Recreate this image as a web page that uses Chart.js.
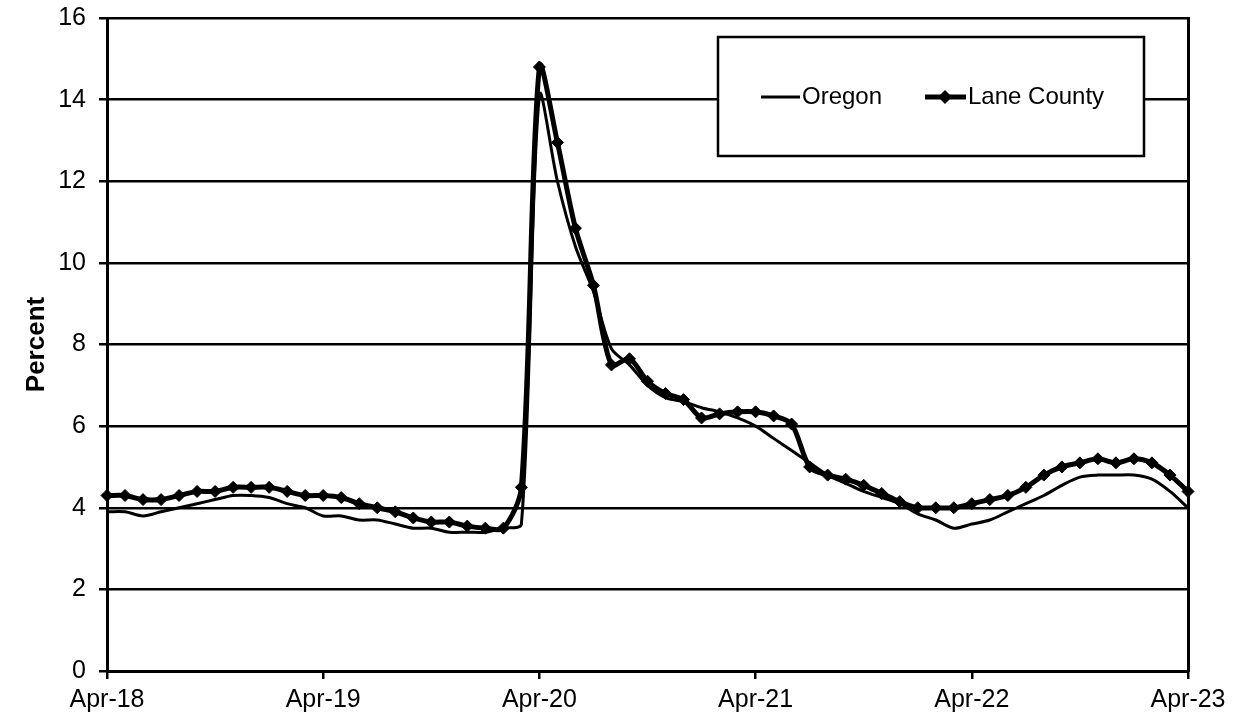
<!DOCTYPE html>
<html>
<head>
<meta charset="utf-8">
<script src="https://cdn.jsdelivr.net/npm/chart.js@4.4.1/dist/chart.umd.min.js"></script>
<style>
  html, body { margin: 0; padding: 0; background: #ffffff; }
  #wrap { width: 1238px; height: 721px; position: relative; }
</style>
</head>
<body>
<div id="wrap"><canvas id="unempChart" width="1238" height="721"></canvas></div>
<script>
  // monthly, Apr-18 .. Apr-23
  const monthNames = ["Jan", "Feb", "Mar", "Apr", "May", "Jun", "Jul", "Aug", "Sep", "Oct", "Nov", "Dec"];
  const months = [];
  for (let i = 0; i <= 60; i++) {
    const m = (3 + i) % 12;
    const y = 18 + Math.floor((3 + i) / 12);
    months.push(monthNames[m] + "-" + y);
  }

  const oregon = [
    3.9, 3.9, 3.8, 3.9, 4.0, 4.1, 4.2, 4.3, 4.3, 4.25, 4.1, 4.0,
    3.8, 3.8, 3.7, 3.7, 3.6, 3.5, 3.5, 3.4, 3.4, 3.4, 3.5, 3.6,
    14.1, 12.0, 10.4, 9.3, 7.9, 7.5, 7.0, 6.7, 6.6, 6.45, 6.35, 6.2,
    6.0, 5.7, 5.4, 5.1, 4.8, 4.6, 4.4, 4.25, 4.1, 3.85, 3.7, 3.5,
    3.6, 3.7, 3.9, 4.1, 4.3, 4.55, 4.75, 4.8, 4.8, 4.8, 4.7, 4.4,
    4.0
  ];

  const laneCounty = [
    4.3, 4.3, 4.2, 4.2, 4.3, 4.4, 4.4, 4.5, 4.5, 4.5, 4.4, 4.3,
    4.3, 4.25, 4.1, 4.0, 3.9, 3.75, 3.65, 3.65, 3.55, 3.5, 3.5, 4.5,
    14.8, 12.95, 10.85, 9.45, 7.5, 7.65, 7.1, 6.8, 6.65, 6.2, 6.3, 6.35,
    6.35, 6.25, 6.05, 5.0, 4.8, 4.7, 4.55, 4.35, 4.15, 4.0, 4.0, 4.0,
    4.1, 4.2, 4.3, 4.5, 4.8, 5.0, 5.1, 5.2, 5.1, 5.2, 5.1, 4.8,
    4.4
  ];

  const yTicks = [0, 2, 4, 6, 8, 10, 12, 14, 16];

  const FONT = "'Liberation Sans', Arial, sans-serif";

  // keep the plot box where the original has it
  function noPad(scale) {
    scale.paddingTop = 0;
    scale.paddingBottom = 0;
    scale.paddingLeft = 0;
    scale.paddingRight = 0;
  }

  // boxed legend drawn over the grid, like the original
  const boxLegend = {
    id: "boxLegend",
    afterDraw(chart) {
      const c = chart.ctx;
      c.save();
      c.fillStyle = "#ffffff";
      c.fillRect(718, 37, 426, 119);
      c.strokeStyle = "#000000";
      c.lineWidth = 2.5;
      c.strokeRect(718, 37, 426, 119);

      const ly = 97;
      c.lineCap = "butt";
      c.beginPath();
      c.lineWidth = 3;
      c.moveTo(761, ly);
      c.lineTo(800, ly);
      c.stroke();

      c.beginPath();
      c.lineWidth = 5;
      c.moveTo(925, ly);
      c.lineTo(966, ly);
      c.stroke();
      c.beginPath();
      c.fillStyle = "#000000";
      c.moveTo(945, ly - 7);
      c.lineTo(952, ly);
      c.lineTo(945, ly + 7);
      c.lineTo(938, ly);
      c.closePath();
      c.fill();

      c.font = "24px " + FONT;
      c.textBaseline = "middle";
      c.textAlign = "left";
      c.fillStyle = "#000000";
      c.fillText("Oregon", 802, ly);
      c.fillText("Lane County", 968, ly);
      c.restore();
    },
  };

  const ctx = document.getElementById("unempChart").getContext("2d");

  new Chart(ctx, {
    type: "line",
    data: {
      labels: months,
      datasets: [
        {
          label: "Oregon",
          data: oregon,
          borderColor: "#000000",
          borderWidth: 3,
          pointRadius: 0,
          tension: 0.3,
          fill: false,
        },
        {
          label: "Lane County",
          data: laneCounty,
          borderColor: "#000000",
          backgroundColor: "#000000",
          borderWidth: 5,
          pointStyle: "rectRot",
          pointRadius: 6,
          pointBackgroundColor: "#000000",
          pointBorderColor: "#000000",
          pointBorderWidth: 1,
          tension: 0.3,
          fill: false,
        },
      ],
    },
    options: {
      responsive: false,
      animation: false,
      devicePixelRatio: 1,
      layout: { padding: { left: 0, top: 18, right: 50, bottom: 0 } },
      plugins: {
        legend: { display: false },
        tooltip: { enabled: false },
      },
      scales: {
        x: {
          type: "category",
          offset: false,
          afterFit: (scale) => { scale.height = 50; noPad(scale); },
          grid: {
            drawOnChartArea: false,
            drawTicks: true,
            tickLength: 8,
            lineWidth: 2.5,
            color: (c) => (c.index % 12 === 0 ? "#000000" : "rgba(0,0,0,0)"),
          },
          border: { display: true, color: "#000000", width: 3 },
          ticks: {
            autoSkip: false,
            maxRotation: 0,
            padding: 6,
            color: "#000000",
            font: { family: FONT, size: 25 },
            callback: (val, i) => (i % 12 === 0 ? months[i] : ""),
          },
        },
        y: {
          min: 0,
          max: 16,
          afterFit: (scale) => { scale.width = 107; noPad(scale); },
          afterBuildTicks: (scale) => {
            scale.ticks = yTicks.map((v) => ({ value: v }));
          },
          grid: {
            color: "#000000",
            lineWidth: 2.5,
            tickLength: 8,
          },
          border: { display: true, color: "#000000", width: 3 },
          ticks: {
            padding: 13,
            color: "#000000",
            font: { family: FONT, size: 25 },
          },
          title: {
            display: true,
            text: "Percent",
            color: "#000000",
            font: { family: FONT, size: 26, weight: "bold" },
            padding: { top: 21, bottom: 0 },
          },
        },
        yRight: {
          position: "right",
          min: 0,
          max: 16,
          afterFit: (scale) => { scale.width = 0; noPad(scale); },
          grid: { drawOnChartArea: false, drawTicks: false },
          border: { display: true, color: "#000000", width: 3 },
          ticks: { display: false },
        },
      },
    },
    plugins: [boxLegend],
  });
</script>
</body>
</html>
